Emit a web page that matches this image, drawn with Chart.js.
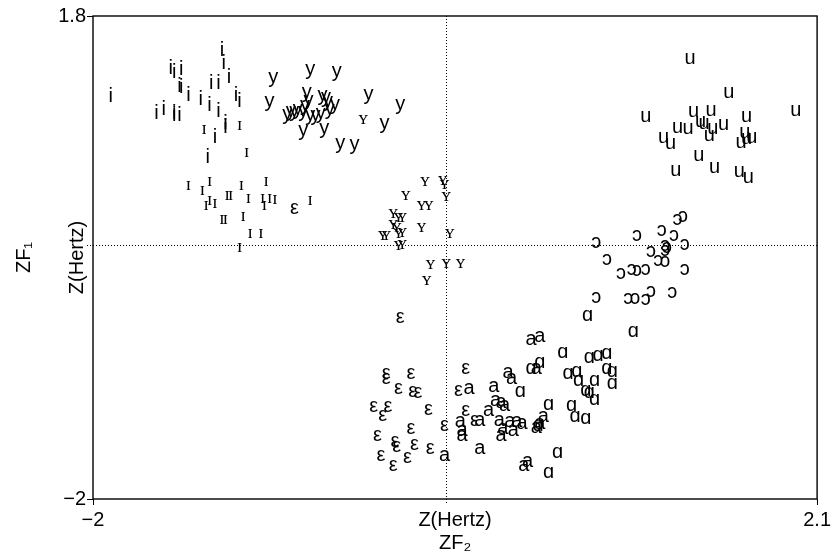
<!DOCTYPE html>
<html>
<head>
<meta charset="utf-8">
<script src="https://cdn.jsdelivr.net/npm/chart.js@4.4.0/dist/chart.umd.min.js"></script>
<style>
html, body { margin: 0; padding: 0; background: #fff; }
</style>
</head>
<body>
<canvas id="grafico" width="834" height="555"></canvas>
<script>
// eixos
var ticksX = [-2, 2.1];
var rotulosX = ['\u22122', '2.1'];
var ticksY = [-2, 1.8];
var rotulosY = ['\u22122', '1.8'];

// vogais (ZF2, ZF1)
var iX = [-1.90,-1.27,-1.26,-1.23,-1.56,-1.54,-1.50,-1.33,-1.29,-1.51,-1.50,-1.46,-1.39,-1.34,-1.29,-1.19,-1.17,-1.64,-1.60,-1.54,-1.54,-1.51,-1.25,-1.25,-1.31,-1.35];
var iY = [1.17,1.53,1.43,1.32,1.39,1.36,1.38,1.27,1.27,1.25,1.24,1.18,1.15,1.10,1.05,1.18,1.13,1.04,1.07,1.04,1.02,1.02,0.96,0.93,0.85,0.69];

var IX = [-1.37,-1.17,-1.13,-1.46,-1.38,-1.34,-1.16,-1.02,-1.36,-1.34,-1.31,-1.24,-1.22,-1.12,-1.04,-1.03,-1.00,-0.97,-1.15,-1.27,-1.25,-1.11,-1.05,-1.17,-0.77];
var IY = [0.91,0.94,0.73,0.47,0.43,0.50,0.47,0.50,0.31,0.35,0.33,0.39,0.39,0.37,0.37,0.31,0.37,0.36,0.23,0.20,0.20,0.09,0.09,-0.02,0.35];

var yX = [-0.98,-0.77,-0.62,-1.00,-0.44,-0.26,-0.35,-0.60,-0.52,-0.90,-0.88,-0.86,-0.84,-0.81,-0.79,-0.78,-0.80,-0.77,-0.81,-0.74,-0.71,-0.70,-0.68,-0.67,-0.63,-0.69,-0.66];
var yY = [1.32,1.38,1.37,1.13,1.19,1.11,0.96,0.80,0.79,1.03,1.05,1.05,1.07,1.05,1.20,1.14,1.10,1.02,0.90,1.02,1.04,1.18,1.16,1.13,1.11,0.92,1.07];

var YX = [-0.47,-0.12,-0.02,-0.01,0.00,-0.23,-0.14,-0.10,-0.30,-0.27,-0.25,-0.30,-0.28,-0.36,-0.34,-0.27,-0.25,-0.14,0.02,-0.27,-0.25,-0.09,0.00,0.08,-0.11];
var YY = [0.99,0.50,0.51,0.48,0.38,0.39,0.31,0.31,0.25,0.22,0.22,0.16,0.14,0.08,0.08,0.09,0.10,0.14,0.09,0.00,0.01,-0.15,-0.14,-0.14,-0.28];

var uX = [1.38,1.60,1.13,1.98,1.40,1.50,1.70,1.31,1.37,1.44,1.46,1.51,1.57,1.49,1.23,1.27,1.67,1.69,1.70,1.73,1.43,1.30,1.52,1.66,1.71];
var uY = [1.47,1.20,1.01,1.06,1.05,1.06,1.01,0.93,0.92,0.97,0.96,0.92,0.95,0.86,0.85,0.80,0.81,0.89,0.84,0.85,0.71,0.59,0.61,0.58,0.53];

var oX = [0.85,0.91,1.08,1.22,1.31,1.34,1.29,1.24,1.25,1.24,1.35,1.16,1.20,1.24,1.35,0.99,1.05,1.08,1.13,0.85,1.03,1.07,1.13,1.16,1.28];
var oY = [0.02,-0.11,0.08,0.12,0.20,0.23,0.08,0.00,-0.02,-0.04,0.01,-0.05,-0.12,-0.13,-0.19,-0.22,-0.19,-0.20,-0.19,-0.41,-0.42,-0.42,-0.43,-0.36,-0.37];

var alfaX = [0.80,1.06,0.66,0.81,0.86,0.91,0.53,0.48,0.69,0.74,0.75,0.84,0.91,0.94,0.94,0.79,0.81,0.84,0.42,0.58,0.71,0.73,0.79,0.52,0.63,0.58];
var alfaY = [-0.55,-0.68,-0.84,-0.88,-0.87,-0.85,-0.92,-0.97,-1.01,-0.99,-1.06,-1.06,-0.97,-0.99,-1.09,-1.14,-1.16,-1.21,-1.15,-1.25,-1.26,-1.35,-1.36,-1.42,-1.63,-1.79];

var aX = [0.48,0.53,0.51,0.35,0.37,0.13,0.27,0.28,0.31,0.33,0.24,0.19,0.08,0.09,0.09,0.30,0.32,0.31,0.36,0.40,0.43,0.38,0.51,0.53,0.55,-0.01,0.19,0.44,0.46];
var aY = [-0.74,-0.72,-0.97,-1.00,-1.05,-1.13,-1.11,-1.22,-1.24,-1.26,-1.30,-1.38,-1.39,-1.46,-1.50,-1.38,-1.44,-1.50,-1.39,-1.39,-1.40,-1.46,-1.43,-1.40,-1.35,-1.65,-1.60,-1.73,-1.70];

var eX = [-0.26,-0.34,-0.34,-0.20,-0.27,-0.19,-0.16,-0.41,-0.36,-0.33,-0.10,-0.20,-0.01,-0.39,-0.29,-0.28,-0.18,-0.09,-0.37,-0.30,-0.22,0.11,0.07,0.11,0.16,-0.86];
var eY = [-0.57,-1.01,-1.05,-1.01,-1.13,-1.15,-1.16,-1.27,-1.34,-1.27,-1.29,-1.44,-1.42,-1.50,-1.54,-1.58,-1.57,-1.60,-1.65,-1.73,-1.67,-0.97,-1.14,-1.30,-1.38,0.29];

var SANS = '"Liberation Sans", Arial, sans-serif';
var SERIF = '"Liberation Serif", "Times New Roman", serif';

function pontos(xs, ys) {
    return xs.map(function(v, k){ return {x: v, y: ys[k]}; });
}

function vogal(simbolo, xs, ys, serifa) {
    return {
        label: simbolo,
        data: pontos(xs, ys),
        simbolo: simbolo,
        fonte: serifa ? '19px ' + SERIF : '20px ' + SANS,
        desvio: serifa ? 5 : 6,
        pointRadius: 0,
        pointHoverRadius: 0,
        showLine: false
    };
}

// desenha os simbolos, as linhas pontilhadas do zero e a moldura
var simbolos = {
    id: 'simbolos',
    beforeDatasetsDraw: function(chart) {
        var ctx = chart.ctx, area = chart.chartArea;
        var x0 = Math.round(chart.scales.x.getPixelForValue(0)) + 0.5;
        var y0 = Math.round(chart.scales.y.getPixelForValue(0)) + 0.5;
        ctx.save();
        ctx.strokeStyle = '#000';
        ctx.lineWidth = 1;
        ctx.setLineDash([1, 2]);
        ctx.beginPath();
        ctx.moveTo(x0, area.top);
        ctx.lineTo(x0, area.bottom + 6);
        ctx.moveTo(area.left - 6, y0);
        ctx.lineTo(area.right, y0);
        ctx.stroke();
        ctx.restore();
    },
    afterDatasetsDraw: function(chart) {
        var ctx = chart.ctx, a = chart.chartArea;
        ctx.save();
        ctx.fillStyle = '#000';
        ctx.textAlign = 'center';
        ctx.textBaseline = 'alphabetic';
        chart.data.datasets.forEach(function(ds, i){
            var meta = chart.getDatasetMeta(i);
            ctx.font = ds.fonte;
            meta.data.forEach(function(p){
                ctx.fillText(ds.simbolo, p.x, p.y + ds.desvio);
            });
        });
        ctx.lineWidth = 1.4;
        ctx.strokeStyle = '#000';
        ctx.strokeRect(a.left, a.top, a.right - a.left, a.bottom - a.top);
        ctx.restore();
    }
};

new Chart(document.getElementById('grafico'), {
    type: 'scatter',
    data: {
        datasets: [
            vogal('i', iX, iY, false),
            vogal('\u026A', IX, IY, true),
            vogal('y', yX, yY, false),
            vogal('\u028F', YX, YY, true),
            vogal('u', uX, uY, false),
            vogal('\u0254', oX, oY, false),
            vogal('\u0251', alfaX, alfaY, false),
            vogal('a', aX, aY, false),
            vogal('\u03B5', eX, eY, false)
        ]
    },
    options: {
        responsive: false,
        animation: false,
        events: [],
        clip: false,
        layout: { padding: { top: 16, right: 16, left: 0, bottom: 0 } },
        plugins: {
            legend: { display: false },
            tooltip: { enabled: false }
        },
        scales: {
            x: {
                type: 'linear',
                min: -2,
                max: 2.1,
                afterBuildTicks: function(s){ s.ticks = ticksX.map(function(v){ return {value: v}; }); },
                afterFit: function(s){ s.height = 56; },
                grid: { drawOnChartArea: false, drawTicks: true, tickLength: 6, color: '#000' },
                border: { display: false },
                ticks: {
                    color: '#000',
                    padding: 3,
                    maxRotation: 0,
                    autoSkip: false,
                    font: { family: SANS, size: 20 },
                    callback: function(v, k){ return rotulosX[k]; }
                },
                title: {
                    display: true,
                    text: ['Z(Hertz)', 'ZF\u2082'],
                    color: '#000',
                    font: { family: SANS, size: 20, lineHeight: 1.15 },
                    padding: { top: 0, bottom: 0 }
                }
            },
            y: {
                type: 'linear',
                min: -2,
                max: 1.8,
                afterBuildTicks: function(s){ s.ticks = ticksY.map(function(v){ return {value: v}; }); },
                afterFit: function(s){ s.width = 93; },
                grid: { drawOnChartArea: false, drawTicks: true, tickLength: 6, color: '#000' },
                border: { display: false },
                ticks: {
                    color: '#000',
                    padding: 1,
                    autoSkip: false,
                    font: { family: SANS, size: 20 },
                    callback: function(v, k){ return rotulosY[k]; }
                },
                title: {
                    display: true,
                    text: ['ZF\u2081', 'Z(Hertz)'],
                    color: '#000',
                    font: { family: SANS, size: 20, lineHeight: 2.65 },
                    padding: { top: -2, bottom: 0 }
                }
            }
        }
    },
    plugins: [simbolos]
});
</script>
</body>
</html>
